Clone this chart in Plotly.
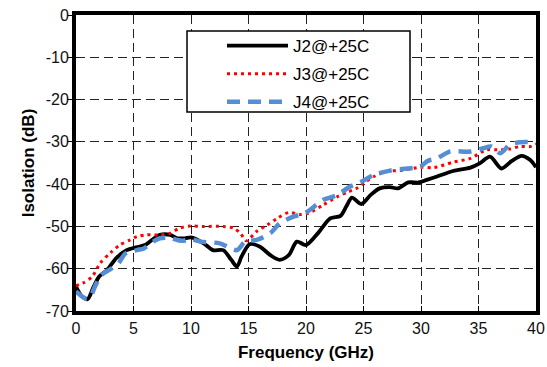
import plotly.graph_objects as go

# ---- data ----
j2_x = [0, 0.5, 1.0, 1.5, 2.0, 2.7, 3.5, 4.4, 5.3, 6.0, 6.6, 7.3, 8.2, 8.8, 9.5, 10.0, 11.1, 11.9, 12.8,
        13.5, 14.0, 14.4, 15.1, 16.0, 16.9, 17.7, 18.5, 19.2, 20.0, 21.1, 22.1, 23.0, 23.5, 24.0, 24.8,
        25.6, 26.4, 27.3, 28.0, 28.9, 29.8, 30.5, 31.4, 32.8, 34.3, 35.1, 36.0, 37.0, 37.9, 38.75, 39.5, 40]
j2_y = [-64.2, -66.5, -67.2, -64.5, -61.9, -60.3, -57.5, -55.6, -54.9, -54.4, -53.2, -52.0, -52.0, -52.8,
        -52.8, -52.6, -54.0, -55.6, -55.6, -57.9, -59.5, -57.1, -54.2, -54.8, -56.8, -57.9, -56.8, -53.6,
        -54.4, -51.4, -48.1, -47.5, -45.3, -43.2, -44.7, -42.6, -41.0, -40.7, -41.0, -39.6, -39.6, -39.0,
        -38.2, -36.9, -36.1, -35.1, -33.5, -36.3, -34.5, -33.3, -34.3, -36.0]

j3_x = [0, 0.6, 1.4, 2.1, 3.0, 3.8, 4.7, 5.3, 6.1, 7.3, 8.2, 9.0, 9.9, 11.0, 12.8, 13.7, 14.3, 14.8, 15.7,
        16.6, 17.5, 18.5, 19.5, 20.3, 21.5, 22.7, 23.7, 24.4, 25.0, 25.9, 27.0, 28.5, 29.9, 31.1, 32.8,
        34.3, 35.7, 36.9, 37.7, 38.6, 39.5, 40]
j3_y = [-64.0, -63.4, -61.9, -58.7, -56.2, -54.4, -53.2, -52.4, -52.0, -52.0, -51.6, -50.4, -49.9, -50.0,
        -50.0, -50.4, -51.6, -53.4, -51.2, -49.7, -48.1, -46.7, -47.2, -46.8, -44.9, -43.0, -41.8, -41.0,
        -39.8, -38.2, -37.0, -36.7, -36.0, -36.1, -34.8, -33.9, -31.9, -31.9, -31.7, -31.1, -31.1, -30.5]

j4_x = [0, 0.8, 1.2, 1.65, 2.2, 3.0, 3.7, 4.3, 5.3, 5.9, 6.7, 7.3, 8.2, 8.8, 9.3, 10.0, 10.8, 12.5, 14.0,
        14.7, 15.7, 16.9, 17.7, 18.9, 19.9, 20.9, 21.5, 22.7, 23.8, 24.7, 25.9, 27.3, 28.8, 29.9, 30.6,
        31.4, 32.5, 34.3, 35.4, 36.1, 36.9, 37.7, 38.6, 40]
j4_y = [-65.4, -67.0, -66.8, -64.2, -61.5, -60.1, -58.7, -56.4, -55.6, -55.2, -53.6, -52.8, -52.7, -53.2,
        -53.4, -53.0, -53.6, -54.0, -55.6, -53.6, -53.2, -51.6, -49.3, -47.7, -46.9, -44.9, -43.7, -42.6,
        -40.6, -39.6, -37.8, -36.8, -36.3, -35.9, -34.5, -33.9, -32.3, -32.3, -31.5, -31.1, -32.7, -30.7,
        -30.1, -30.1]

names = ["J2@+25C", "J3@+25C", "J4@+25C"]
x_ticks = [0, 5, 10, 15, 20, 25, 30, 35, 40]
y_ticks = [0, -10, -20, -30, -40, -50, -60, -70]

FONT = "Liberation Sans, Arial, sans-serif"

fig = go.Figure()
fig.add_trace(go.Scatter(x=j2_x, y=j2_y, name=names[0], mode="lines", legendgroup="a",
                         line=dict(color="black", width=3.8, shape="spline", smoothing=0.8)))
fig.add_trace(go.Scatter(x=j3_x, y=j3_y, name=names[1], mode="lines", legendgroup="b",
                         line=dict(color="#ff0000", width=3, dash="3px,4px", shape="spline", smoothing=0.8)))
fig.add_trace(go.Scatter(x=j4_x, y=j4_y, name=names[2], mode="lines", legendgroup="c",
                         line=dict(color="#558ed5", width=4.5, dash="13px,8px", shape="spline", smoothing=0.8)))

axis_common = dict(
    showline=True, linecolor="black", linewidth=4, mirror=True,
    showgrid=True, gridcolor="#222222", gridwidth=1.2, griddash="9px,5px",
    zeroline=False, ticks="outside", ticklen=5, tickcolor="black", tickwidth=1,
    tickfont=dict(family=FONT, size=16, color="#111111"), automargin=False,
)

fig.update_xaxes(range=[0, 40], tickvals=x_ticks, ticktext=[str(v) for v in x_ticks],
                 title=dict(text="<b>Frequency (GHz)</b>", font=dict(family=FONT, size=17, color="black"), standoff=11),
                 **{**axis_common, "ticks": "inside"})
fig.update_yaxes(range=[-70, 0], tickvals=y_ticks, ticktext=[str(v) for v in y_ticks],
                 title=dict(text="<b>Isolation (dB)</b>", font=dict(family=FONT, size=17, color="black"), standoff=8),
                 ticklabelstandoff=-5, **axis_common)

fig.add_shape(type="rect", xref="paper", yref="paper",
              x0=(187 - 76) / 460, x1=(410 - 76) / 460, y0=(311 - 112) / 296, y1=(311 - 31) / 296,
              line=dict(color="black", width=1.5), fillcolor="white", layer="above")

fig.update_layout(
    width=547, height=367,
    margin=dict(l=76, r=11, t=15, b=56, autoexpand=False),
    paper_bgcolor="white", plot_bgcolor="white",
    font=dict(family=FONT, color="black"),
    legend=dict(x=(222 - 76) / 460, y=(311 - 28) / 296, xanchor="left", yanchor="top",
                bgcolor="rgba(0,0,0,0)", borderwidth=0, itemwidth=61, tracegroupgap=3,
                font=dict(family=FONT, size=17, color="black")),
)

fig.write_html("out.html", config={"displayModeBar": False},
               post_script="document.body.style.margin='0px';")
